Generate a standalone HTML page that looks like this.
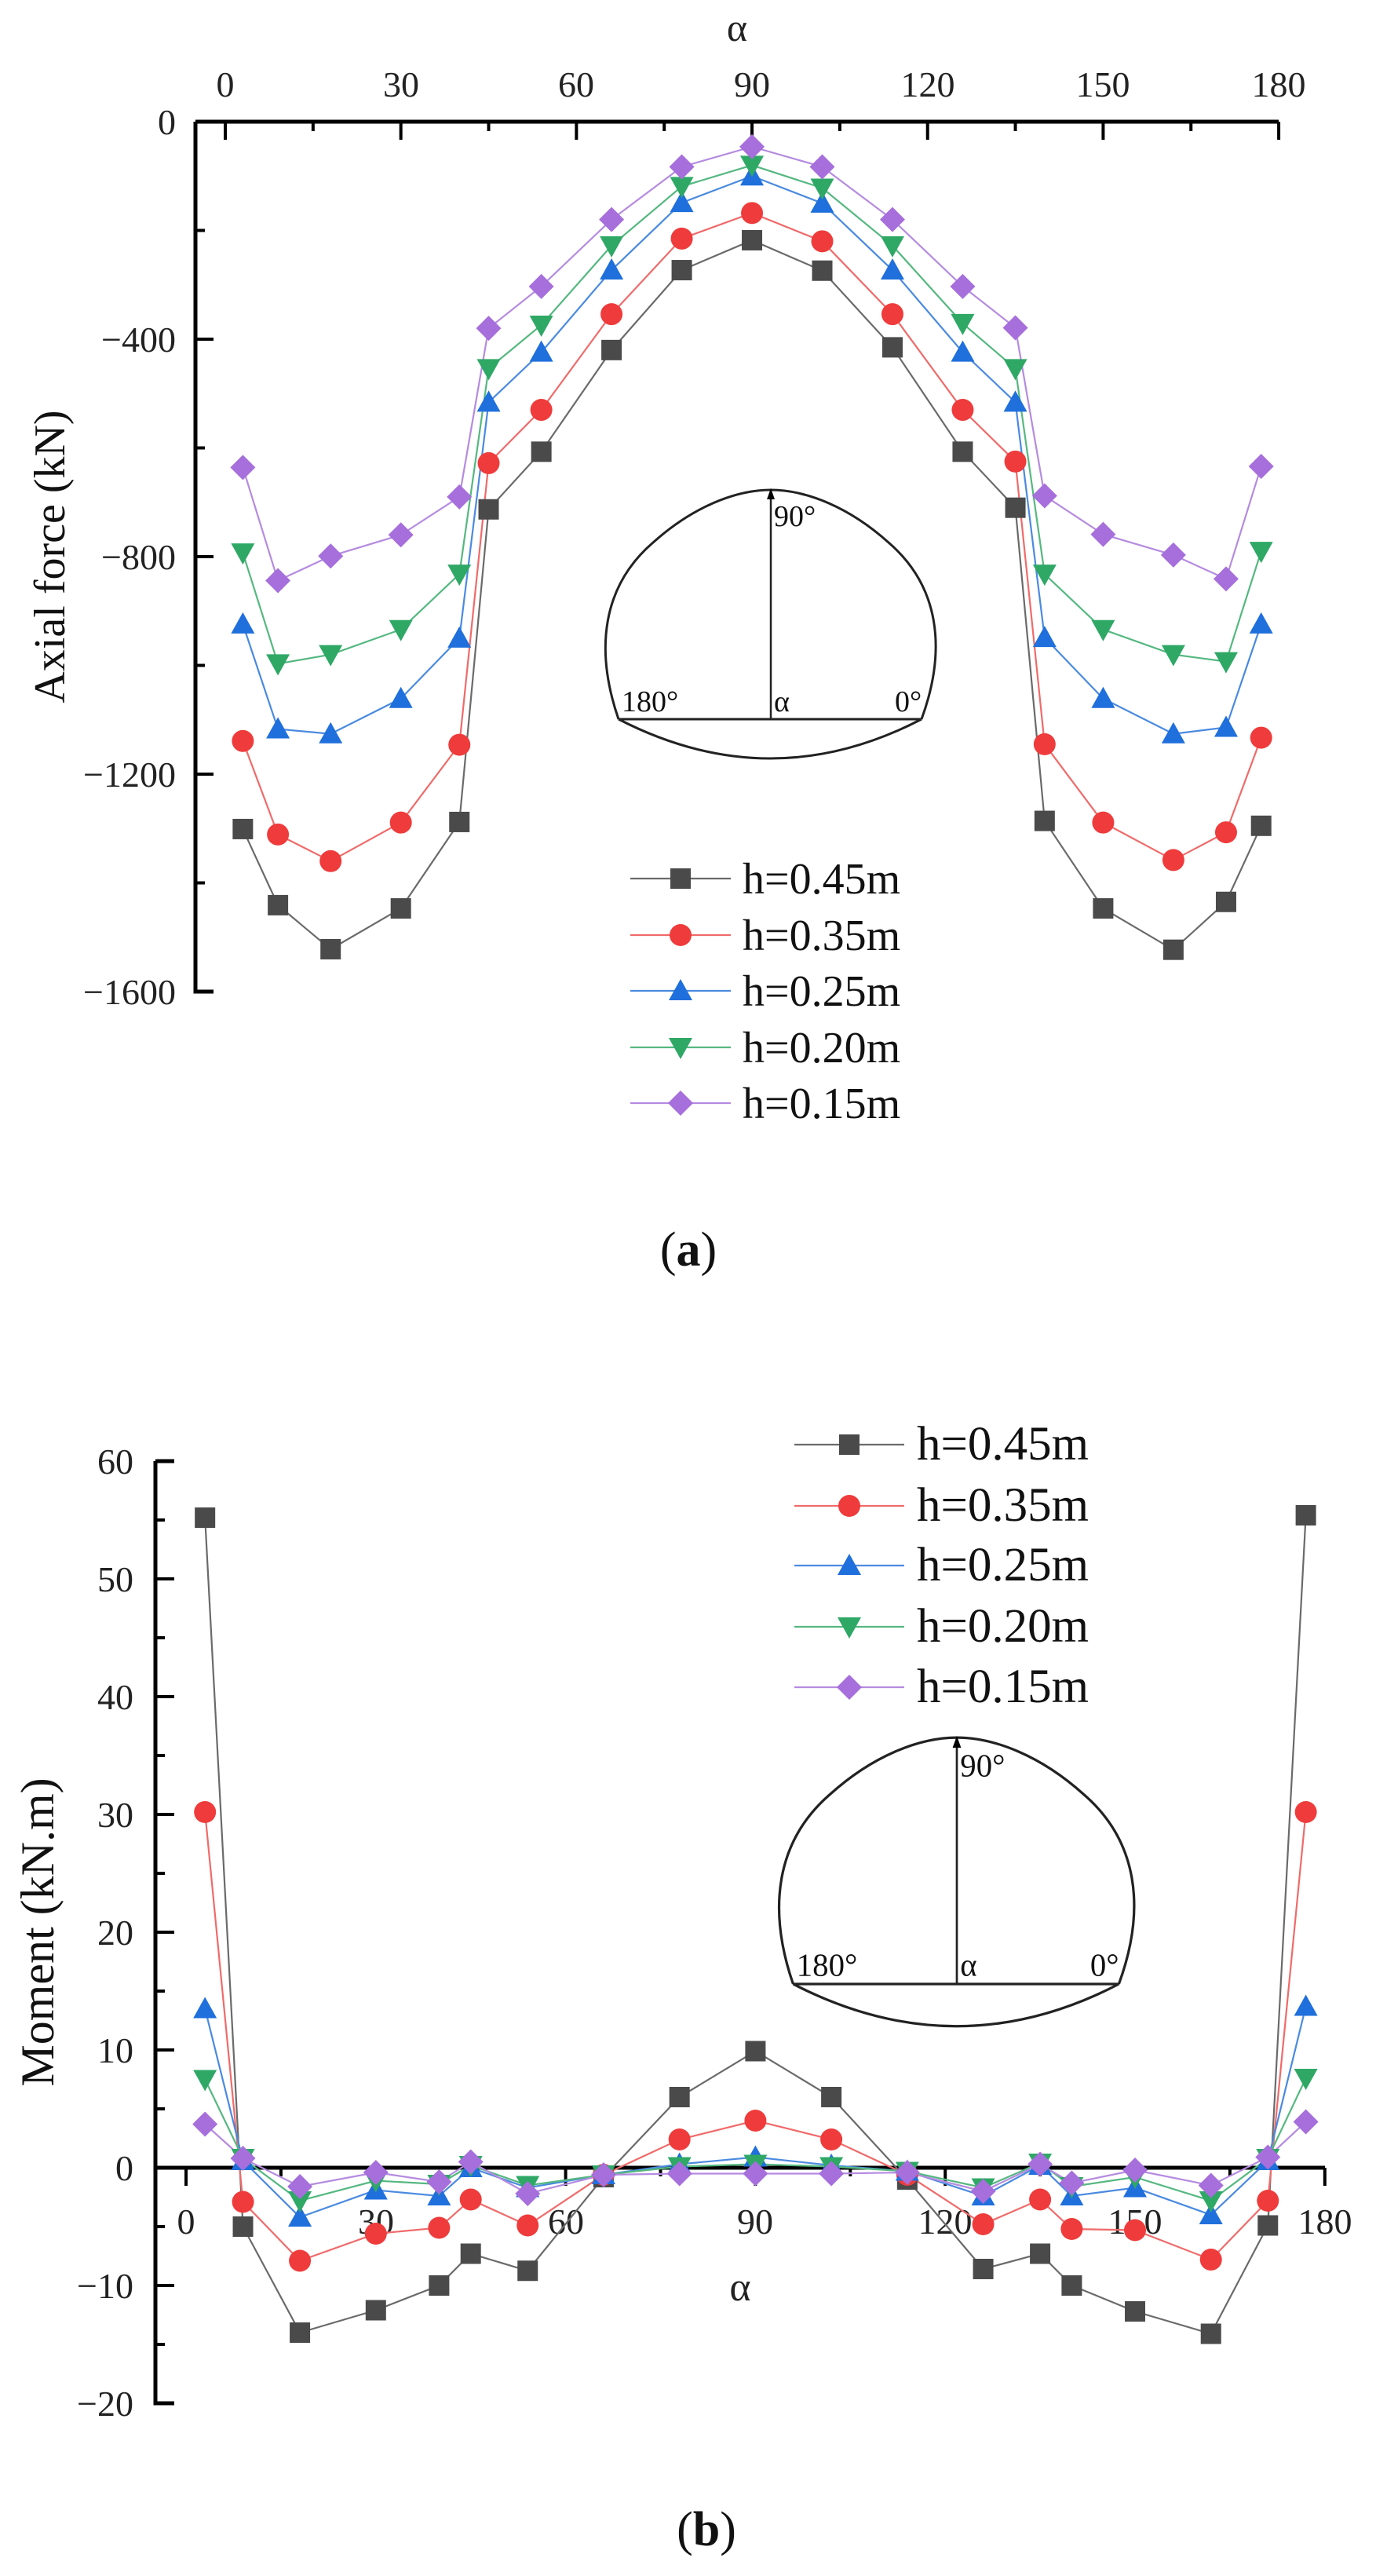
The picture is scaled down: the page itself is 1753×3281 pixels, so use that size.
<!DOCTYPE html>
<html><head><meta charset="utf-8"><style>html,body{margin:0;padding:0;background:#fff}svg{display:block}</style></head>
<body>
<svg id="s" xmlns="http://www.w3.org/2000/svg" width="1753" height="3281" viewBox="0 0 1753 3281" font-family="Liberation Serif, serif">
<rect width="1753" height="3281" fill="#fff"/>
<g stroke="#000" stroke-width="5" fill="none">
<path d="M249,155 H1629 M249,155 V1263 H272"/>
</g>
<g id="ticksA" stroke="#000" stroke-width="4"></g>
<g font-size="46" fill="#222" text-anchor="middle">
<text x="287" y="123">0</text><text x="511" y="123">30</text><text x="734" y="123">60</text>
<text x="958" y="123">90</text><text x="1182" y="123">120</text><text x="1405" y="123">150</text><text x="1629" y="123">180</text>
<text x="939" y="52" font-size="50">α</text>
</g>
<g font-size="46" fill="#222" text-anchor="end">
<text x="224" y="171">0</text><text x="224" y="448">−400</text><text x="224" y="725">−800</text>
<text x="224" y="1002">−1200</text><text x="224" y="1279">−1600</text>
</g>
<text transform="translate(82,709) rotate(-90)" font-size="56" text-anchor="middle" fill="#111">Axial force (kN)</text>
<g stroke="#000" stroke-width="5" fill="none">
<path d="M198,1861 H222 M198,1861 V3061 H222 M198,2761 H1688"/>
</g>
<g id="ticksB" stroke="#000" stroke-width="4"></g>
<g font-size="46" fill="#222" text-anchor="middle">
<text x="237" y="2845">0</text><text x="479" y="2845">30</text><text x="721" y="2845">60</text>
<text x="962" y="2845">90</text><text x="1204" y="2845">120</text><text x="1446" y="2845">150</text><text x="1688" y="2845">180</text>
<text x="943" y="2930" font-size="52">α</text>
</g>
<g font-size="46" fill="#222" text-anchor="end">
<text x="170" y="1877">60</text><text x="170" y="2027">50</text><text x="170" y="2177">40</text>
<text x="170" y="2327">30</text><text x="170" y="2477">20</text><text x="170" y="2627">10</text>
<text x="170" y="2777">0</text><text x="170" y="2927">−10</text><text x="170" y="3077">−20</text>
</g>
<text transform="translate(68,2461) rotate(-90)" font-size="60" text-anchor="middle" fill="#111">Moment (kN.m)</text>
<g id="insA" transform="translate(982,916)">
<g fill="none" stroke="#222" stroke-width="3">
<path d="M-194,0 C-225,-90 -214,-170 -150,-225 C-100,-270 -45,-292 0,-292 C45,-292 100,-270 150,-225 C214,-170 225,-90 192,0"/>
<path d="M-194,0 Q0,100 192,0"/>
<path d="M-194,0 H192" />
<path d="M0,0 V-285" stroke-width="2.5"/>
</g>
<path d="M-5,-280 L0,-294 L5,-280 Z" fill="#000"/>
<g font-size="38" fill="#111">
<text x="4" y="-246">90°</text><text x="-190" y="-10">180°</text><text x="4" y="-10">α</text><text x="158" y="-10">0°</text>
</g>
</g>
<use href="#insA" transform="translate(1219,2527) scale(1.075) translate(-982,-916)"/>
<g id="legA" font-size="56" fill="#111"></g>
<g id="legB" font-size="61" fill="#111"></g>
<g id="series"></g>
<text x="877" y="1612" font-size="62" text-anchor="middle" fill="#111">(<tspan font-weight="bold">a</tspan>)</text>
<text x="900" y="3242" font-size="62" text-anchor="middle" fill="#111">(<tspan font-weight="bold">b</tspan>)</text>
</svg>
<script>
var NS="http://www.w3.org/2000/svg";
function el(p,t,a){var e=document.createElementNS(NS,t);for(var k in a)e.setAttribute(k,a[k]);p.appendChild(e);return e;}
var deg=[3,9,18,30,40,45,54,66,78,90,102,114,126,135,140,150,162,171,177];
var cols=[["#4a4a4a","#6a6a6a"],["#ef3b3b","#f06a6a"],["#1f6fdc","#4a8ae0"],["#2fa866","#55b880"],["#a66fdc","#b58be0"]];
var A=[[-1301,-1441,-1522,-1447,-1288,-713,-607,-420,-273,-218,-274,-415,-607,-710,-1286,-1447,-1523,-1435,-1295],
[-1139,-1311,-1360,-1289,-1146,-628,-530,-354,-215,-168,-220,-354,-530,-625,-1145,-1289,-1358,-1307,-1133],
[-924,-1117,-1126,-1061,-950,-516,-424,-273,-149,-100,-150,-273,-424,-516,-949,-1061,-1126,-1114,-924],
[-793,-997,-980,-934,-832,-454,-374,-228,-119,-80,-122,-228,-371,-454,-832,-934,-980,-993,-790],
[-636,-844,-799,-760,-690,-380,-303,-180,-83,-46,-83,-180,-303,-379,-688,-759,-797,-841,-634]];
var B=[[55.2,-5,-14,-12.1,-10,-7.3,-8.75,-0.8,6,9.9,6,-1,-8.6,-7.3,-10,-12.2,-14.1,-4.9,55.4],
[30.2,-2.9,-7.9,-5.6,-5.1,-2.7,-4.9,-0.6,2.4,4,2.4,-0.6,-4.8,-2.7,-5.2,-5.3,-7.8,-2.8,30.2],
[13.5,0.6,-4.2,-1.9,-2.4,0,-1.7,-0.6,0.3,0.9,0.2,-0.3,-2.4,0.2,-2.4,-1.7,-4,0.6,13.7],
[7.5,0.8,-2.8,-1.1,-1.4,0.2,-1.5,-0.6,0.1,0.3,0.1,-0.3,-1.7,0.4,-1.6,-0.8,-2.8,0.8,7.6],
[3.7,0.8,-1.6,-0.4,-1.2,0.5,-2.2,-0.6,-0.5,-0.5,-0.5,-0.4,-2,0.3,-1.3,-0.2,-1.5,0.9,3.9]];
function marker(g,i,x,y){var c=cols[i][0];
 if(i==0)el(g,"rect",{x:x-13,y:y-13,width:26,height:26,fill:c});
 else if(i==1)el(g,"circle",{cx:x,cy:y,r:14,fill:c});
 else if(i==2)el(g,"path",{d:"M"+x+","+(y-15)+" L"+(x+15)+","+(y+12)+" L"+(x-15)+","+(y+12)+"Z",fill:c});
 else if(i==3)el(g,"path",{d:"M"+x+","+(y+15)+" L"+(x+15)+","+(y-12)+" L"+(x-15)+","+(y-12)+"Z",fill:c});
 else el(g,"path",{d:"M"+x+","+(y-16)+" L"+(x+16)+","+y+" L"+x+","+(y+16)+" L"+(x-16)+","+y+"Z",fill:c});}
var S=document.getElementById("series");
function draw(data,fx,fy){
 for(var i=0;i<5;i++){var pts=data[i].map(function(v,j){return [fx(deg[j]),fy(v)];});
  el(S,"polyline",{points:pts.map(function(p){return p.join(",");}).join(" "),fill:"none",stroke:cols[i][1],"stroke-width":2.2});}
 for(var i=0;i<5;i++){data[i].forEach(function(v,j){marker(S,i,fx(deg[j]),fy(v));});}
}
draw(A,function(d){return 287+d*7.456;},function(v){return 155-v*0.6925;});
draw(B,function(d){return 237+d*8.06;},function(v){return 2761-v*15;});
var tA=document.getElementById("ticksA");
for(var d=0;d<=180;d+=15){var x=287+d*7.456;el(tA,"line",{x1:x,y1:155,x2:x,y2:d%30==0?178:167});}
for(var k=1;k<=8;k++){var y=155+k*138.5;el(tA,"line",{x1:249,y1:y,x2:k%2==0?272:261,y2:y});}
var tB=document.getElementById("ticksB");
for(var d=0;d<=180;d+=15){var x=237+d*8.06;el(tB,"line",{x1:x,y1:2761,x2:x,y2:d%30==0?2784:2772});}
for(var k=0;k<=16;k++){var y=1861+k*75;el(tB,"line",{x1:198,y1:y,x2:k%2==0?222:210,y2:y});}
var labs=["h=0.45m","h=0.35m","h=0.25m","h=0.20m","h=0.15m"];
function leg(id,x1,x2,mx,tx,ys){var g=document.getElementById(id);
 for(var i=0;i<5;i++){el(g,"line",{x1:x1,y1:ys[i],x2:x2,y2:ys[i],stroke:cols[i][1],"stroke-width":2.2});marker(g,i,mx,ys[i]);
  var t=el(g,"text",{x:tx,y:ys[i]+19});t.textContent=labs[i];}}
leg("legA",803,931,867,946,[1119,1191,1262,1334,1405]);
leg("legB",1012,1152,1082,1168,[1840,1918,1994,2072,2149]);
</script>
</body></html>
